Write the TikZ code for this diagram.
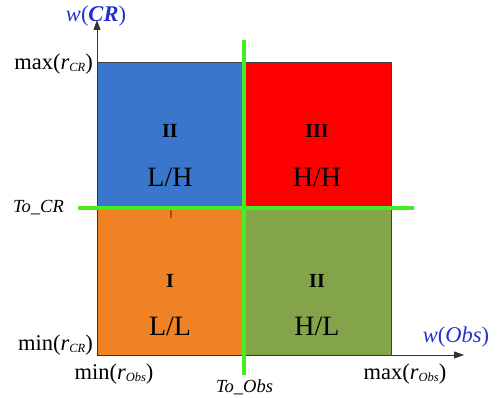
\documentclass[tikz,border=0pt]{standalone}
\usepackage{fontspec}
\setmainfont{Liberation Serif}
\usetikzlibrary{arrows.meta}
\definecolor{qblue}{HTML}{3A76CC}
\definecolor{qred}{HTML}{FF0000}
\definecolor{qorange}{HTML}{EE8225}
\definecolor{qolive}{HTML}{83A448}
\definecolor{qgreen}{HTML}{44EE22}
\definecolor{lblblue}{HTML}{2233CC}
\newcommand{\sbx}[1]{\raisebox{-0.2ex}{\fontsize{12.5}{12.5}\selectfont #1}}
\tikzset{
  quad/.style={draw=black!75, line width=0.7pt, inner sep=0pt, minimum width=146.5pt, minimum height=146.5pt},
  roman/.style={font=\fontsize{20}{20}\selectfont\bfseries},
  pair/.style={font=\fontsize{28}{28}\selectfont},
  axlbl/.style={font=\fontsize{22.5}{22.5}\selectfont, inner sep=0pt},
  thr/.style={font=\fontsize{18.5}{18.5}\selectfont\itshape, inner sep=0pt},
  axis/.style={line width=0.8pt, black!80, -{Triangle[length=10pt,width=7pt]}},
  gline/.style={qgreen, line width=3.5pt}
}
\begin{document}
\begin{tikzpicture}[x=1pt,y=-1pt]
\useasboundingbox (0,0) rectangle (500,398);
% quadrants
\node[quad, fill=qblue, anchor=north west] (q2a) at (97,62) {};
\node[quad, fill=qred, anchor=north west] (q3) at (244,62) {};
\node[quad, fill=qorange, anchor=north west] (q1) at (97,208) {};
\node[quad, fill=qolive, anchor=north west] (q2b) at (244,208) {};
% axes
\coordinate (O) at (97,355);
\coordinate (ytip) at (97,20);
\coordinate (xtip) at (464,355);
\draw[axis] (O) -- (ytip);
\draw[axis] (O) -- (xtip);
% threshold lines
\coordinate (vt) at (244,40);
\coordinate (vb) at (244,375);
\coordinate (hl) at (78,208);
\coordinate (hr) at (414,208);
\draw[gline] (vt) -- (vb);
\draw[gline] (hl) -- (hr);
% small mark
\coordinate (mk1) at (171,210);
\coordinate (mk2) at (171,218);
\draw[black, opacity=0.35, line width=2pt] (mk1) -- (mk2);
% quadrant labels
\node[roman] (r2a) at (170,131) {II};
\node[pair] (p2a) at (170,177) {L/H};
\node[roman] (r3) at (317,131) {III};
\node[pair] (p3) at (317,177) {H/H};
\node[roman] (r1) at (170,281) {I};
\node[pair] (p1) at (170,326) {L/L};
\node[roman] (r2b) at (317,281) {II};
\node[pair] (p2b) at (317,326) {H/L};
% axis labels
\node[axlbl, text=lblblue] (wcr) at (96,16) {\textit{w}(\textbf{\textit{CR}})};
\node[axlbl, text=lblblue] (wobs) at (456,337) {\textit{w}(\textit{Obs})};
\node[axlbl, anchor=east] (maxcr) at (93,64) {max(\textit{r}\sbx{\textit{CR}})};
\node[axlbl, anchor=east] (mincr) at (93,345) {min(\textit{r}\sbx{\textit{CR}})};
\node[axlbl] (minobs) at (114,374) {min(\textit{r}\sbx{\textit{Obs}})};
\node[axlbl] (maxobs) at (405,374) {max(\textit{r}\sbx{\textit{Obs}})};
\node[thr, anchor=east] (tocr) at (64,208) {To\_CR};
\node[thr] (toobs) at (244.5,387) {To\_Obs};
\end{tikzpicture}
\end{document}
